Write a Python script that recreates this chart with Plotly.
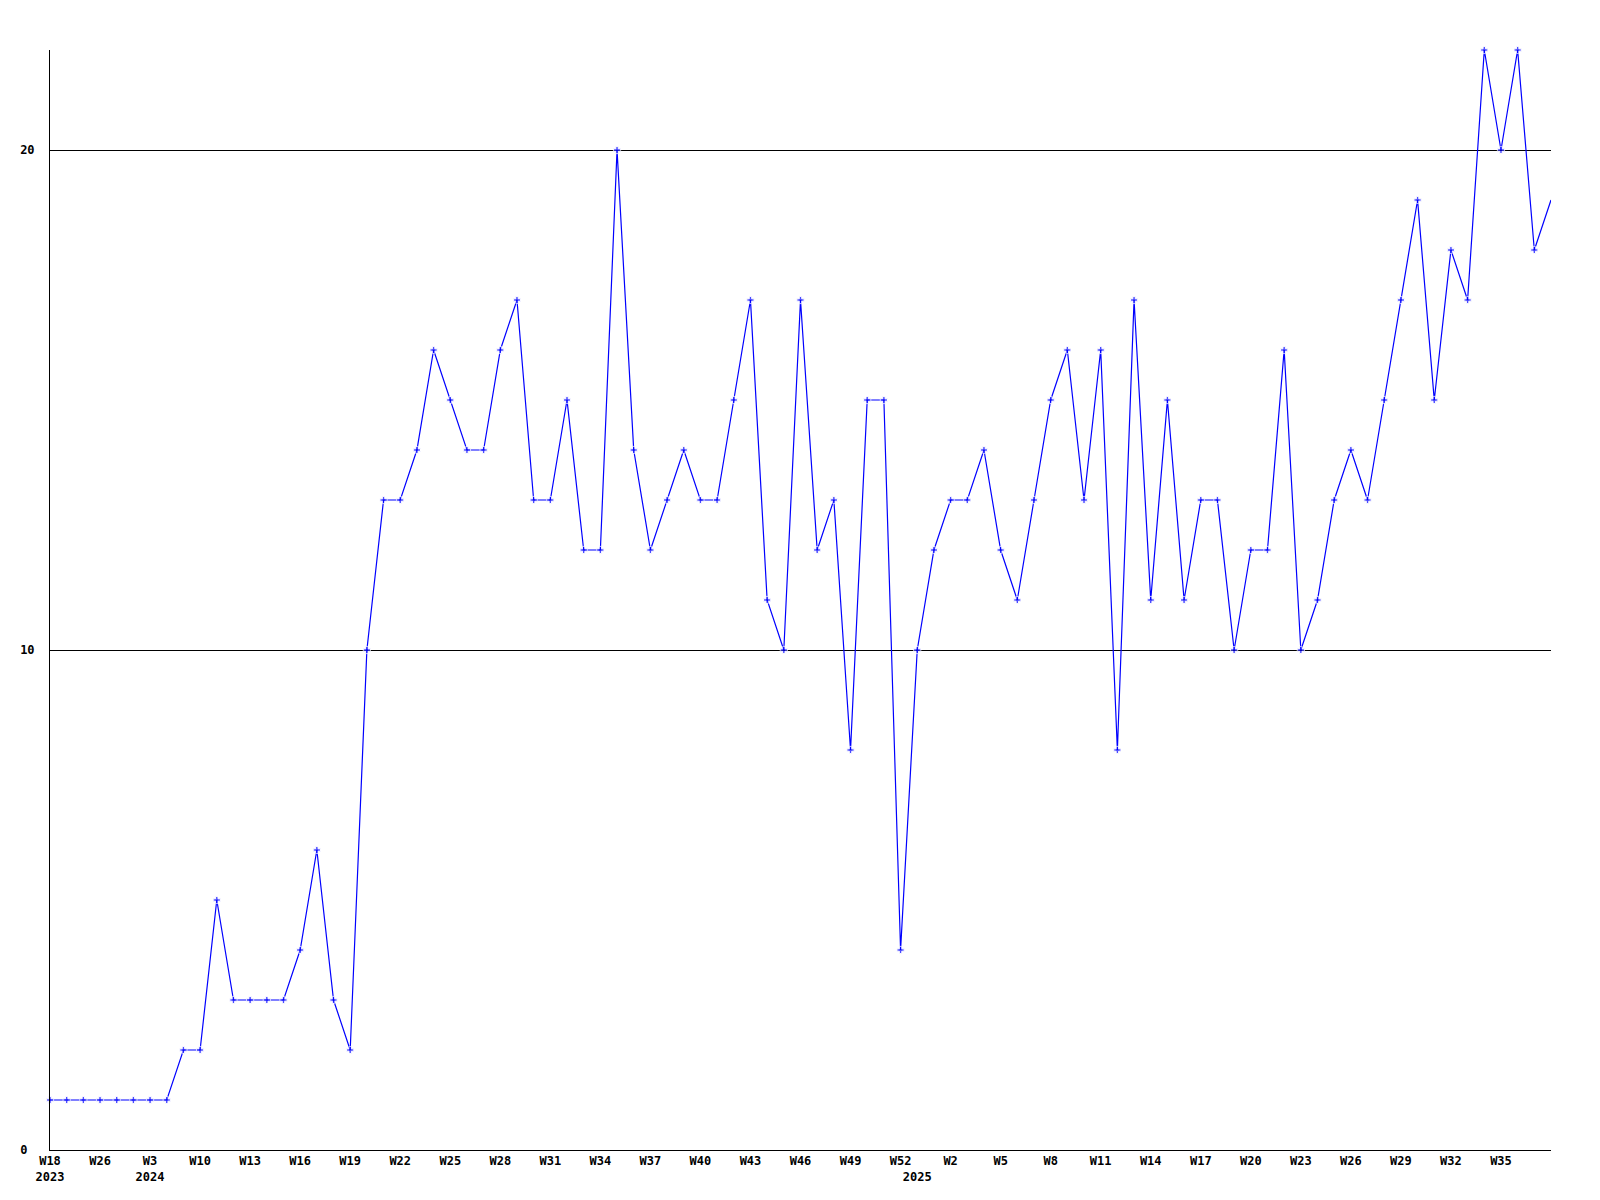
import plotly.graph_objects as go

# weekly counts, one point per entry
values = [1, 1, 1, 1, 1, 1, 1, 1, 2, 2,
          5, 3, 3, 3, 3, 4, 6, 3, 2, 10,
          13, 13, 14, 16, 15, 14, 14, 16, 17, 13,
          13, 15, 12, 12, 20, 14, 12, 13, 14, 13,
          13, 15, 17, 11, 10, 17, 12, 13, 8, 15,
          15, 4, 10, 12, 13, 13, 14, 12, 11, 13,
          15, 16, 13, 16, 8, 17, 11, 15, 11, 13,
          13, 10, 12, 12, 16, 10, 11, 13, 14, 13,
          15, 17, 19, 15, 18, 17, 22, 20, 22, 18, 19]

# tick labels shown every third point
week_labels = ["W18", "W26", "W3", "W10", "W13", "W16", "W19", "W22", "W25", "W28",
               "W31", "W34", "W37", "W40", "W43", "W46", "W49", "W52", "W2", "W5",
               "W8", "W11", "W14", "W17", "W20", "W23", "W26", "W29", "W32", "W35"]
year_labels = {0: "2023", 6: "2024", 52: "2025"}

y_ticks = [0, 10, 20]
y_ticktext = ["0&nbsp;", "10", "20"]

x = list(range(len(values)))

tickvals, ticktext = [], []
for i, w in enumerate(week_labels):
    pos = i * 3
    tickvals.append(pos)
    ticktext.append(w + ("<br>" + year_labels[pos] if pos in year_labels else ""))
for pos, yr in year_labels.items():
    if pos not in tickvals:
        tickvals.append(pos)
        ticktext.append("&nbsp;<br>" + yr)

sizes = [6] * (len(values) - 1) + [0]

font = dict(family="DejaVu Sans Mono", size=12, color="black", weight="bold")

fig = go.Figure()
fig.add_trace(go.Scatter(x=x, y=values, mode="lines+markers",
                         line=dict(color="#0000ff", width=1.2),
                         marker=dict(symbol="cross", size=sizes, color="#0000ff"),
                         cliponaxis=False, showlegend=False))

# page body adds 8px offset, so margins are trimmed to match
fig.update_layout(width=1600, height=1200, plot_bgcolor="white", paper_bgcolor="white",
                  margin=dict(l=42, r=57, t=42, b=58), font=font)
fig.update_xaxes(range=[0, len(values) - 1], tickvals=tickvals, ticktext=ticktext,
                 showgrid=False, zeroline=False, showline=True, linecolor="black",
                 linewidth=1, ticks="", tickfont=font, tickangle=0)
fig.update_yaxes(range=[0, 22], tickvals=y_ticks, ticktext=y_ticktext,
                 showgrid=True, gridcolor="black", gridwidth=1, zeroline=False,
                 showline=True, linecolor="black", linewidth=1, ticks="",
                 tickfont=font, ticklabelstandoff=12)

fig.write_html("out.html")
